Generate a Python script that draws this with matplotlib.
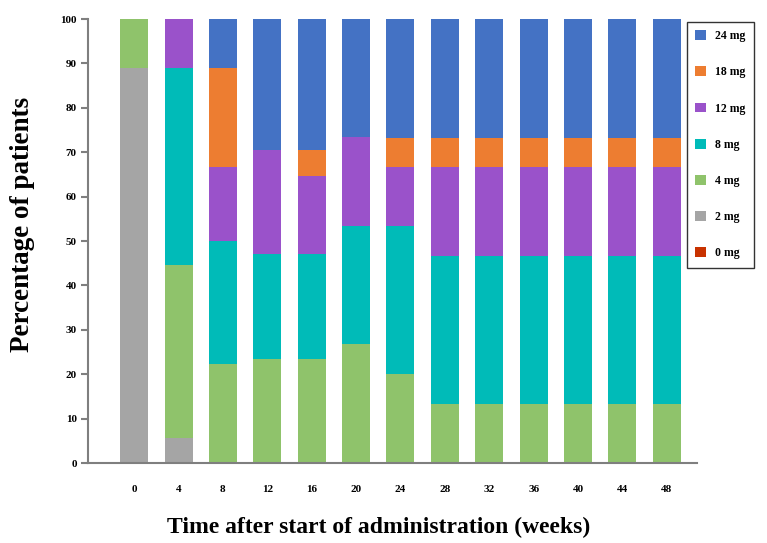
import matplotlib
matplotlib.use('Agg')
import matplotlib.pyplot as plt
import numpy as np

plt.rcParams['font.family'] = ['Liberation Serif', 'DejaVu Serif']
plt.rcParams['font.weight'] = 'bold'

# weeks after start of administration
weeks = ['0', '4', '8', '12', '16', '20', '24', '28', '32', '36', '40', '44', '48']

# percentage of patients at each dose
dose_0mg = [0, 0, 0, 0, 0, 0, 0, 0, 0, 0, 0, 0, 0]
dose_2mg = [88.9, 5.6, 0, 0, 0, 0, 0, 0, 0, 0, 0, 0, 0]
dose_4mg = [11.1, 38.9, 22.2, 23.5, 23.5, 26.7, 20.0, 13.3, 13.3, 13.3, 13.3, 13.3, 13.3]
dose_8mg = [0, 44.4, 27.8, 23.5, 23.5, 26.7, 33.3, 33.3, 33.3, 33.3, 33.3, 33.3, 33.3]
dose_12mg = [0, 11.1, 16.7, 23.5, 17.6, 20.0, 13.3, 20.0, 20.0, 20.0, 20.0, 20.0, 20.0]
dose_18mg = [0, 0, 22.2, 0, 5.9, 0, 6.7, 6.7, 6.7, 6.7, 6.7, 6.7, 6.7]
dose_24mg = [0, 0, 11.1, 29.4, 29.4, 26.7, 26.7, 26.7, 26.7, 26.7, 26.7, 26.7, 26.7]

series = [
    ('0 mg', dose_0mg, '#C83200'),
    ('2 mg', dose_2mg, '#A5A5A5'),
    ('4 mg', dose_4mg, '#8FC36B'),
    ('8 mg', dose_8mg, '#00BBB8'),
    ('12 mg', dose_12mg, '#9A52CA'),
    ('18 mg', dose_18mg, '#ED7D31'),
    ('24 mg', dose_24mg, '#4472C4'),
]

fig = plt.figure(figsize=(7.67, 5.43), dpi=100)
ax = fig.add_axes([0.1147, 0.1473, 0.794, 0.8177])

x = np.arange(len(weeks))
bottom = np.zeros(len(weeks))
handles = []
for label, vals, color in series:
    vals = np.array(vals, dtype=float)
    h = ax.bar(x, vals, width=0.63, bottom=bottom, color=color, label=label, linewidth=0)
    handles.append(h)
    bottom += vals

ax.set_xlim(-1.04, 12.68)
ax.set_ylim(0, 100)
ax.set_yticks(np.arange(0, 101, 10))
ax.set_xticks(x)
ax.set_xticklabels(weeks)

for side in ['top', 'right']:
    ax.spines[side].set_visible(False)
for side in ['left', 'bottom']:
    ax.spines[side].set_color('#7F7F7F')
    ax.spines[side].set_linewidth(1.5)

ax.tick_params(axis='y', length=5, width=1.5, color='#7F7F7F', labelsize=8, pad=3)
ax.tick_params(axis='x', length=0, labelsize=8, pad=16)
for t in ax.get_xticklabels() + ax.get_yticklabels():
    t.set_fontweight('bold')

# axis titles placed in figure coords to match the original layout
fig.text(0.029, 0.586, 'Percentage of patients', fontsize=19.5, fontweight='bold',
         rotation=90, ha='center', va='center')
fig.text(0.494, 0.028, 'Time after start of administration (weeks)',
         fontsize=17, fontweight='bold', ha='center', va='center')

# legend listed from highest dose down
leg = fig.legend(handles[::-1], [s[0] for s in series][::-1],
                 loc='upper left', bbox_to_anchor=(0.8957, 0.9595),
                 prop={'family': 'Liberation Serif', 'weight': 'bold', 'size': 8.5},
                 frameon=True, fancybox=False, borderaxespad=0,
                 handlelength=0.9, handleheight=0.9, handletextpad=0.8,
                 labelspacing=2.05, borderpad=0.7)
leg.get_frame().set_edgecolor('black')
leg.get_frame().set_linewidth(1.0)

plt.savefig('out.png', dpi=100)
